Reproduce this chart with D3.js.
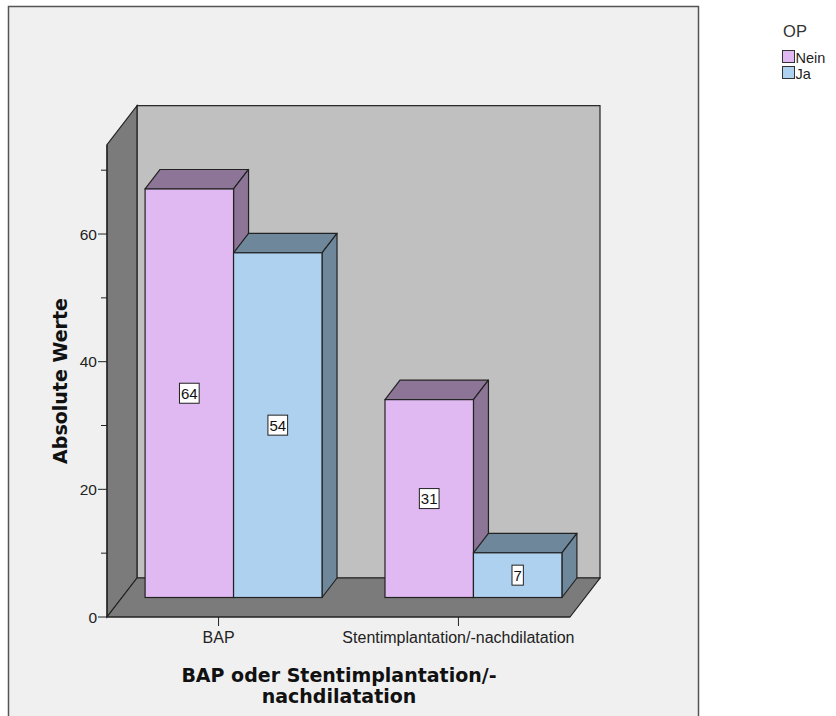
<!DOCTYPE html>
<html>
<head>
<meta charset="utf-8">
<script src="https://cdn.jsdelivr.net/npm/d3@7"></script>
<style>
  html, body { margin: 0; padding: 0; background: #ffffff; }
  svg { display: block; }
</style>
</head>
<body>
<svg id="chart" width="836" height="716"></svg>
<script>
// Counts of patients by procedure and OP status
const categories = ["BAP", "Stentimplantation/-nachdilatation"];
const seriesNames = ["Nein", "Ja"];
const neinValues = [64, 31];
const jaValues = [54, 7];
const yTickValues = [0, 20, 40, 60];
const yMinorTickValues = [10, 30, 50, 70];

const seriesColors = {
  Nein: { front: "#e0b8f2", shade: "#8c7596" },
  Ja:   { front: "#aed1ef", shade: "#6e879a" }
};

const svg = d3.select("#chart");
const FONT = "'Liberation Sans', Arial, sans-serif";
const BOLD_FONT = "'DejaVu Sans', Verdana, sans-serif";

// outer chart frame
svg.append("rect")
  .attr("x", 8.5).attr("y", 6.5)
  .attr("width", 690).attr("height", 720)
  .attr("fill", "#f0f0f0")
  .attr("stroke", "#555").attr("stroke-width", 1.5);

// front plane of the plot
const plotLeft = 107, plotRight = 570, base = 617;
const depthX = 30, depthY = 39;               // full depth of the box
const barDX = depthX / 2, barDY = depthY / 2; // bars fill the back half

const y = d3.scaleLinear().domain([0, 74]).range([base, base - 74 * 6.383]);
const x = d3.scalePoint().domain(categories).range([plotLeft, plotRight]).padding(0.465);
const groupWidth = x.step() * 0.7375;
const barWidth = groupWidth / seriesNames.length;

const plotTop = y.range()[1];

// back wall
svg.append("rect")
  .attr("x", plotLeft + depthX).attr("y", plotTop - depthY)
  .attr("width", plotRight - plotLeft).attr("height", base - plotTop)
  .attr("fill", "#c0c0c0").attr("stroke", "#222").attr("stroke-width", 1.2);

// left wall
svg.append("polygon")
  .attr("points", [[plotLeft, base], [plotLeft, plotTop], [plotLeft + depthX, plotTop - depthY], [plotLeft + depthX, base - depthY]].join(" "))
  .attr("fill", "#7b7b7b").attr("stroke", "#222").attr("stroke-width", 1.2);

// floor
svg.append("polygon")
  .attr("points", [[plotLeft, base], [plotRight, base], [plotRight + depthX, base - depthY], [plotLeft + depthX, base - depthY]].join(" "))
  .attr("fill", "#7b7b7b").attr("stroke", "#222").attr("stroke-width", 1.2);

// y axis
const yAxisG = svg.append("g").attr("transform", `translate(${plotLeft},0)`);
yAxisG.append("line")
  .attr("x1", 0).attr("x2", 0).attr("y1", base).attr("y2", plotTop)
  .attr("stroke", "#222").attr("stroke-width", 1.2);
yAxisG.selectAll("line.major").data(yTickValues).join("line")
  .attr("class", "major")
  .attr("x1", -9).attr("x2", 0)
  .attr("y1", d => y(d)).attr("y2", d => y(d))
  .attr("stroke", "#222");
yAxisG.selectAll("line.minor").data(yMinorTickValues).join("line")
  .attr("class", "minor")
  .attr("x1", -6).attr("x2", 0)
  .attr("y1", d => y(d)).attr("y2", d => y(d))
  .attr("stroke", "#222");
yAxisG.selectAll("text").data(yTickValues).join("text")
  .attr("x", -10).attr("y", d => y(d))
  .attr("dy", "0.36em")
  .attr("text-anchor", "end")
  .attr("font-family", FONT).attr("font-size", 15.5).attr("fill", "#222")
  .text(d => d);

// x axis baseline and ticks
svg.append("line")
  .attr("x1", plotLeft).attr("x2", plotRight).attr("y1", base).attr("y2", base)
  .attr("stroke", "#222").attr("stroke-width", 1.2);
const xAxisG = svg.append("g");
xAxisG.selectAll("line").data(categories).join("line")
  .attr("x1", d => x(d)).attr("x2", d => x(d))
  .attr("y1", base).attr("y2", base + 9)
  .attr("stroke", "#222");
xAxisG.selectAll("text").data(categories).join("text")
  .attr("x", d => x(d)).attr("y", base + 26)
  .attr("text-anchor", "middle")
  .attr("font-family", FONT).attr("font-size", 16).attr("fill", "#222")
  .text(d => d);

// bars
const rows = [];
categories.forEach((c, i) => {
  rows.push({ cat: c, series: "Nein", value: neinValues[i], idx: 0 });
  rows.push({ cat: c, series: "Ja", value: jaValues[i], idx: 1 });
});

const barsG = svg.append("g");
rows.forEach(r => {
  const x0 = x(r.cat) - groupWidth / 2 + r.idx * barWidth + barDX;
  const yT = y(r.value) - barDY;
  const yB = y(0) - barDY;
  const col = seriesColors[r.series];
  const g = barsG.append("g");
  g.append("polygon")
    .attr("points", [[x0, yT], [x0 + barWidth, yT], [x0 + barWidth + barDX, yT - barDY], [x0 + barDX, yT - barDY]].join(" "))
    .attr("fill", col.shade).attr("stroke", "#222").attr("stroke-width", 1.2).attr("stroke-linejoin", "round");
  g.append("polygon")
    .attr("points", [[x0 + barWidth, yT], [x0 + barWidth + barDX, yT - barDY], [x0 + barWidth + barDX, yB - barDY], [x0 + barWidth, yB]].join(" "))
    .attr("fill", col.shade).attr("stroke", "#222").attr("stroke-width", 1.2).attr("stroke-linejoin", "round");
  g.append("rect")
    .attr("x", x0).attr("y", yT)
    .attr("width", barWidth).attr("height", yB - yT)
    .attr("fill", col.front).attr("stroke", "#222").attr("stroke-width", 1.2);

  // value label
  const cx = x0 + barWidth / 2, cy = (yT + yB) / 2;
  const label = g.append("text")
    .attr("x", cx).attr("y", cy).attr("dy", "0.36em")
    .attr("text-anchor", "middle")
    .attr("font-family", FONT).attr("font-size", 15).attr("fill", "#111")
    .text(r.value);
  const bb = label.node().getBBox();
  g.insert("rect", "text")
    .attr("x", bb.x - 1.5).attr("y", cy - 10)
    .attr("width", bb.width + 3).attr("height", 20)
    .attr("fill", "#fff").attr("stroke", "#222").attr("stroke-width", 1);
});

// axis titles
svg.append("text")
  .attr("transform", `translate(67,381) rotate(-90)`)
  .attr("text-anchor", "middle")
  .attr("font-family", BOLD_FONT).attr("font-weight", "bold").attr("font-size", 19).attr("fill", "#111")
  .text("Absolute Werte");

const xTitle = svg.append("text")
  .attr("text-anchor", "middle")
  .attr("font-family", BOLD_FONT).attr("font-weight", "bold").attr("font-size", 19).attr("fill", "#111");
xTitle.append("tspan").attr("x", 339).attr("y", 682).text("BAP oder Stentimplantation/-");
xTitle.append("tspan").attr("x", 339).attr("y", 703).text("nachdilatation");

// legend
const legend = svg.append("g");
legend.append("text")
  .attr("x", 795).attr("y", 37)
  .attr("text-anchor", "middle")
  .attr("font-family", FONT).attr("font-size", 16.5).attr("fill", "#333")
  .text("OP");
legend.selectAll("rect").data(seriesNames).join("rect")
  .attr("x", 782.5).attr("y", (d, i) => 50.5 + i * 16)
  .attr("width", 12).attr("height", 12)
  .attr("fill", d => seriesColors[d].front)
  .attr("stroke", "#333").attr("stroke-width", 1);
legend.selectAll("text.item").data(seriesNames).join("text")
  .attr("class", "item")
  .attr("x", 795.5).attr("y", (d, i) => 62.5 + i * 16)
  .attr("font-family", FONT).attr("font-size", 14.5).attr("fill", "#222")
  .text(d => d);
</script>
</body>
</html>
